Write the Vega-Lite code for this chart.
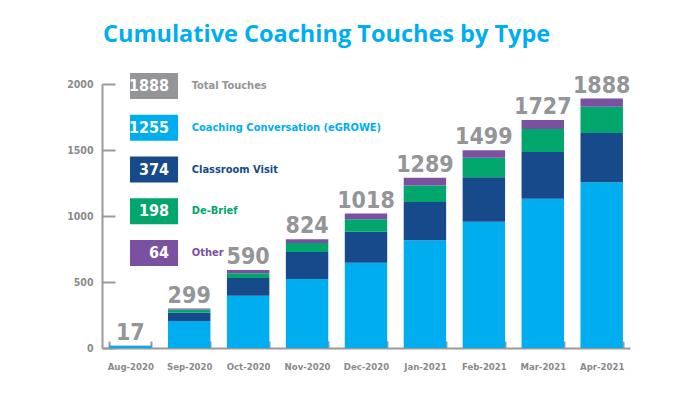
{
  "$schema": "https://vega.github.io/schema/vega-lite/v6.json",
  "width": 528,
  "height": 264,
  "autosize": {"type": "none"},
  "padding": {"left": 102, "top": 84, "right": 70, "bottom": 45},
  "background": "white",
  "title": {
    "text": "Cumulative Coaching Touches by Type",
    "anchor": "start",
    "frame": "group",
    "dx": 1,
    "offset": 7,
    "baseline": "alphabetic",
    "font": "Open Sans",
    "fontSize": 23.5,
    "fontWeight": "bold",
    "color": "#00AEEF"
  },
  "config": {"view": {"stroke": null}, "font": "DejaVu Sans Condensed"},
  "datasets": {
    "touches": [
      {"month": "Aug-2020", "type": "Coaching Conversation (eGROWE)", "count": 15},
      {"month": "Aug-2020", "type": "Classroom Visit", "count": 2},
      {"month": "Aug-2020", "type": "De-Brief", "count": 0},
      {"month": "Aug-2020", "type": "Other", "count": 0},
      {"month": "Sep-2020", "type": "Coaching Conversation (eGROWE)", "count": 205},
      {"month": "Sep-2020", "type": "Classroom Visit", "count": 62},
      {"month": "Sep-2020", "type": "De-Brief", "count": 24},
      {"month": "Sep-2020", "type": "Other", "count": 8},
      {"month": "Oct-2020", "type": "Coaching Conversation (eGROWE)", "count": 396},
      {"month": "Oct-2020", "type": "Classroom Visit", "count": 134},
      {"month": "Oct-2020", "type": "De-Brief", "count": 37},
      {"month": "Oct-2020", "type": "Other", "count": 23},
      {"month": "Nov-2020", "type": "Coaching Conversation (eGROWE)", "count": 523},
      {"month": "Nov-2020", "type": "Classroom Visit", "count": 204},
      {"month": "Nov-2020", "type": "De-Brief", "count": 68},
      {"month": "Nov-2020", "type": "Other", "count": 29},
      {"month": "Dec-2020", "type": "Coaching Conversation (eGROWE)", "count": 646},
      {"month": "Dec-2020", "type": "Classroom Visit", "count": 235},
      {"month": "Dec-2020", "type": "De-Brief", "count": 94},
      {"month": "Dec-2020", "type": "Other", "count": 43},
      {"month": "Jan-2021", "type": "Coaching Conversation (eGROWE)", "count": 816},
      {"month": "Jan-2021", "type": "Classroom Visit", "count": 290},
      {"month": "Jan-2021", "type": "De-Brief", "count": 126},
      {"month": "Jan-2021", "type": "Other", "count": 57},
      {"month": "Feb-2021", "type": "Coaching Conversation (eGROWE)", "count": 957},
      {"month": "Feb-2021", "type": "Classroom Visit", "count": 336},
      {"month": "Feb-2021", "type": "De-Brief", "count": 149},
      {"month": "Feb-2021", "type": "Other", "count": 57},
      {"month": "Mar-2021", "type": "Coaching Conversation (eGROWE)", "count": 1130},
      {"month": "Mar-2021", "type": "Classroom Visit", "count": 355},
      {"month": "Mar-2021", "type": "De-Brief", "count": 175},
      {"month": "Mar-2021", "type": "Other", "count": 67},
      {"month": "Apr-2021", "type": "Coaching Conversation (eGROWE)", "count": 1255},
      {"month": "Apr-2021", "type": "Classroom Visit", "count": 374},
      {"month": "Apr-2021", "type": "De-Brief", "count": 198},
      {"month": "Apr-2021", "type": "Other", "count": 64}
    ],
    "totals": [
      {"month": "Aug-2020", "total": 17},
      {"month": "Sep-2020", "total": 299},
      {"month": "Oct-2020", "total": 590},
      {"month": "Nov-2020", "total": 824},
      {"month": "Dec-2020", "total": 1018},
      {"month": "Jan-2021", "total": 1289},
      {"month": "Feb-2021", "total": 1499},
      {"month": "Mar-2021", "total": 1727},
      {"month": "Apr-2021", "total": 1888}
    ],
    "legend": [
      {"type": "Total Touches", "value": 1888},
      {"type": "Coaching Conversation (eGROWE)", "value": 1255},
      {"type": "Classroom Visit", "value": 374},
      {"type": "De-Brief", "value": 198},
      {"type": "Other", "value": 64}
    ]
  },
  "layer": [
    {
      "layer": [
        {
          "data": {"name": "touches"},
          "transform": [
            {"calculate": "indexof(['Coaching Conversation (eGROWE)', 'Classroom Visit', 'De-Brief', 'Other'], datum.type)", "as": "stackOrder"}
          ],
          "mark": {"type": "bar"},
          "encoding": {
            "x": {
              "field": "month", "type": "ordinal", "sort": null,
              "scale": {"paddingInner": 0.28, "paddingOuter": 0.12},
              "axis": {
                "title": null, "labelAngle": 0,
                "domainColor": "#9a9a9a", "domainWidth": 2,
                "ticks": false, "tickSize": 0, "tickBand": "extent",
                "grid": true, "gridColor": "#9a9a9a", "gridWidth": 2, "gridDash": [0, 257, 7, 1000],
                "labelFont": "DejaVu Sans Condensed", "labelFontSize": 9.5, "labelFontWeight": "bold",
                "labelColor": "#8a8a8a", "labelPadding": 13
              }
            },
            "y": {
              "field": "count", "type": "quantitative", "stack": "zero",
              "scale": {"domain": [0, 2000]},
              "axis": {
                "title": null, "values": [0, 500, 1000, 1500, 2000], "format": "d",
                "domainColor": "#9a9a9a", "domainWidth": 2,
                "ticks": false, "tickSize": 0,
                "grid": true, "gridColor": "#9a9a9a", "gridWidth": 2, "gridDash": [13, 1000],
                "labelFont": "DejaVu Sans Condensed", "labelFontSize": 10.5, "labelFontWeight": "bold",
                "labelColor": "#8a8a8a", "labelPadding": 9
              }
            },
            "color": {
              "field": "type", "type": "nominal",
              "scale": {
                "domain": ["Total Touches", "Coaching Conversation (eGROWE)", "Classroom Visit", "De-Brief", "Other"],
                "range": ["#939598", "#00AEEF", "#174A8B", "#00A66C", "#7A51A1"]
              },
              "legend": null
            },
            "order": {"field": "stackOrder", "type": "quantitative", "sort": "ascending"}
          }
        },
        {
          "data": {"name": "totals"},
          "mark": {"type": "text", "baseline": "alphabetic", "dy": -6, "fontSize": 23, "fontWeight": "bold", "color": "#939598", "font": "DejaVu Sans Condensed"},
          "encoding": {
            "x": {"field": "month", "type": "ordinal", "sort": null},
            "y": {"field": "total", "type": "quantitative"},
            "text": {"field": "total", "type": "quantitative"}
          }
        }
      ]
    },
    {
      "data": {"name": "legend"},
      "layer": [
        {
          "mark": {"type": "rect"},
          "encoding": {
            "x": {"datum": 5.3, "type": "quantitative", "scale": {"domain": [0, 100]}, "axis": null},
            "x2": {"datum": 14.4},
            "y": {"field": "type", "type": "nominal", "sort": null,
                  "scale": {"range": [-19, 190], "paddingInner": 0.378, "paddingOuter": 0.189}, "axis": null},
            "color": {"field": "type", "type": "nominal", "legend": null}
          }
        },
        {
          "mark": {"type": "text", "align": "right", "baseline": "middle", "color": "white", "fontSize": 16, "fontWeight": "bold", "font": "DejaVu Sans Condensed"},
          "encoding": {
            "x": {"datum": 12.7, "type": "quantitative"},
            "y": {"field": "type", "type": "nominal", "sort": null},
            "text": {"field": "value", "type": "quantitative"}
          }
        },
        {
          "mark": {"type": "text", "align": "left", "baseline": "middle", "fontSize": 11, "fontWeight": "bold", "font": "DejaVu Sans Condensed"},
          "encoding": {
            "x": {"datum": 17, "type": "quantitative"},
            "y": {"field": "type", "type": "nominal", "sort": null},
            "text": {"field": "type", "type": "nominal"},
            "color": {"field": "type", "type": "nominal", "legend": null}
          }
        }
      ]
    }
  ],
  "resolve": {"scale": {"x": "independent", "y": "independent"}}
}
